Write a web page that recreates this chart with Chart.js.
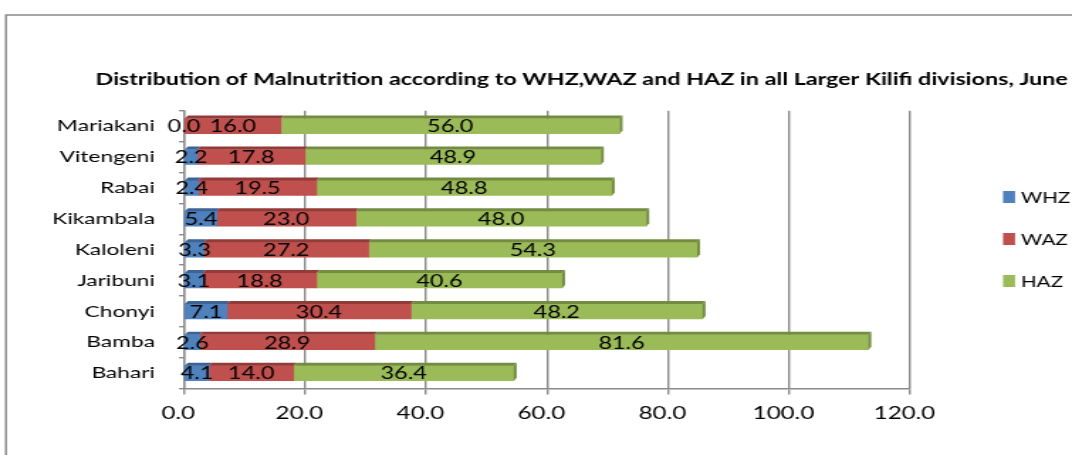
<!DOCTYPE html>
<html>
<head>
<meta charset="utf-8">
<script src="https://cdn.jsdelivr.net/npm/chart.js@4"></script>
<style>
  html, body { margin: 0; padding: 0; background: #fff; overflow: hidden; }
  /* il grafico originale e' "stirato" in orizzontale: lo riproduciamo con scaleX */
  #wrap { width: 755px; height: 455px; transform: scaleX(1.4199); transform-origin: 0 0; }
</style>
</head>
<body>
<div id="wrap"><canvas id="malChart"></canvas></div>
<script>
// Dati
const divisions = ['Mariakani', 'Vitengeni', 'Rabai', 'Kikambala', 'Kaloleni', 'Jaribuni', 'Chonyi', 'Bamba', 'Bahari'];
const whz = [0.0, 2.2, 2.4, 5.4, 3.3, 3.1, 7.1, 2.6, 4.1];
const waz = [16.0, 17.8, 19.5, 23.0, 27.2, 18.8, 30.4, 28.9, 14.0];
const haz = [56.0, 48.9, 48.8, 48.0, 54.3, 40.6, 48.2, 81.6, 36.4];
const seriesNames = ['WHZ', 'WAZ', 'HAZ'];
const titleText = 'Distribution of Malnutrition according to WHZ,WAZ and HAZ in all Larger Kilifi divisions, June';

const FONT = "Lato, 'Liberation Sans', sans-serif";
const colors = ['#4F81BD', '#C0504D', '#9BBB59'];
const darkColors = ['#3B6396', '#933B39', '#738C40'];

// cornice esterna del grafico
const framePlugin = {
    id: 'frame',
    beforeDraw(chart) {
        const ctx = chart.ctx;
        ctx.save();
        ctx.strokeStyle = '#8a8a8a';
        ctx.lineWidth = 1.5;
        ctx.strokeRect(4.2, 15, 1000, 600);
        ctx.restore();
    }
};

// facce "3D" delle barre + etichette dei valori
const barLookPlugin = {
    id: 'barLook',
    afterDatasetsDraw(chart) {
        const ctx = chart.ctx;
        const dx = 2, dy = 3;
        const last = chart.data.datasets.length - 1;
        ctx.save();
        chart.data.datasets.forEach((ds, i) => {
            const meta = chart.getDatasetMeta(i);
            meta.data.forEach((bar) => {
                const h = bar.height;
                const top = bar.y - h / 2;
                const bottom = bar.y + h / 2;
                const left = Math.min(bar.x, bar.base);
                const right = Math.max(bar.x, bar.base);
                ctx.fillStyle = darkColors[i];
                if (right - left > 0) {
                    ctx.beginPath();
                    ctx.moveTo(left, top);
                    ctx.lineTo(right, top);
                    ctx.lineTo(right + dx, top - dy);
                    ctx.lineTo(left + dx, top - dy);
                    ctx.closePath();
                    ctx.fill();
                }
                if (i === last) {
                    ctx.beginPath();
                    ctx.moveTo(right, top);
                    ctx.lineTo(right + dx, top - dy);
                    ctx.lineTo(right + dx, bottom - dy);
                    ctx.lineTo(right, bottom);
                    ctx.closePath();
                    ctx.fill();
                }
            });
        });
        // etichette al centro di ogni segmento
        ctx.fillStyle = '#000';
        ctx.font = '16.5px ' + FONT;
        ctx.textAlign = 'center';
        ctx.textBaseline = 'middle';
        chart.data.datasets.forEach((ds, i) => {
            const meta = chart.getDatasetMeta(i);
            meta.data.forEach((bar, j) => {
                const cx = (bar.x + bar.base) / 2;
                ctx.fillText(ds.data[j].toFixed(1), cx, bar.y + 1);
            });
        });
        ctx.restore();
    }
};

// legenda a destra
const sideLegendPlugin = {
    id: 'sideLegend',
    afterDraw(chart) {
        const ctx = chart.ctx;
        const ys = [197, 239, 281];
        ctx.save();
        ctx.font = '14.5px ' + FONT;
        ctx.textBaseline = 'middle';
        ctx.textAlign = 'left';
        chart.data.datasets.forEach((ds, i) => {
            ctx.fillStyle = ds.backgroundColor;
            ctx.fillRect(706.4, ys[i] - 6, 8.5, 12);
            ctx.fillStyle = '#000';
            ctx.fillText(ds.label, 719, ys[i] + 1);
        });
        ctx.restore();
    }
};

const ctx = document.getElementById('malChart').getContext('2d');
new Chart(ctx, {
    type: 'bar',
    data: {
        labels: divisions,
        datasets: [
            { label: seriesNames[0], data: whz, backgroundColor: colors[0] },
            { label: seriesNames[1], data: waz, backgroundColor: colors[1] },
            { label: seriesNames[2], data: haz, backgroundColor: colors[2] }
        ]
    },
    options: {
        indexAxis: 'y',
        responsive: true,
        maintainAspectRatio: false,
        animation: false,
        layout: { padding: { left: 0, right: 3, top: 0, bottom: 22 } },
        datasets: { bar: { barThickness: 15, borderWidth: 0 } },
        scales: {
            x: {
                stacked: true,
                min: 0,
                max: 120,
                ticks: {
                    stepSize: 20,
                    color: '#000',
                    font: { family: FONT, size: 17 },
                    padding: 9,
                    labelOffset: -4,
                    callback: (v) => Number(v).toFixed(1)
                },
                grid: { color: '#8a8a8a', lineWidth: 1.4, tickLength: 6 },
                border: { display: true, color: '#8a8a8a', width: 1.4 }
            },
            y: {
                stacked: true,
                ticks: {
                    color: '#000',
                    font: { family: FONT, size: 16 },
                    padding: 17
                },
                grid: { drawOnChartArea: false, drawTicks: true, tickLength: 3.5, color: '#8a8a8a', lineWidth: 1.4 },
                border: { display: true, color: '#8a8a8a', width: 1.4 },
                afterFit: (s) => { s.width = 129.6; }
            },
            yRight: {
                type: 'category',
                position: 'right',
                labels: divisions,
                ticks: { display: false },
                grid: { display: false },
                border: { display: false },
                afterFit: (s) => { s.width = 111; }
            }
        },
        plugins: {
            legend: { display: false },
            tooltip: { enabled: false },
            title: {
                display: true,
                text: titleText,
                align: 'end',
                color: '#000',
                font: { family: FONT, size: 16.4, weight: 'bold' },
                padding: { top: 70, bottom: 21 }
            }
        }
    },
    plugins: [framePlugin, barLookPlugin, sideLegendPlugin]
});
</script>
</body>
</html>
